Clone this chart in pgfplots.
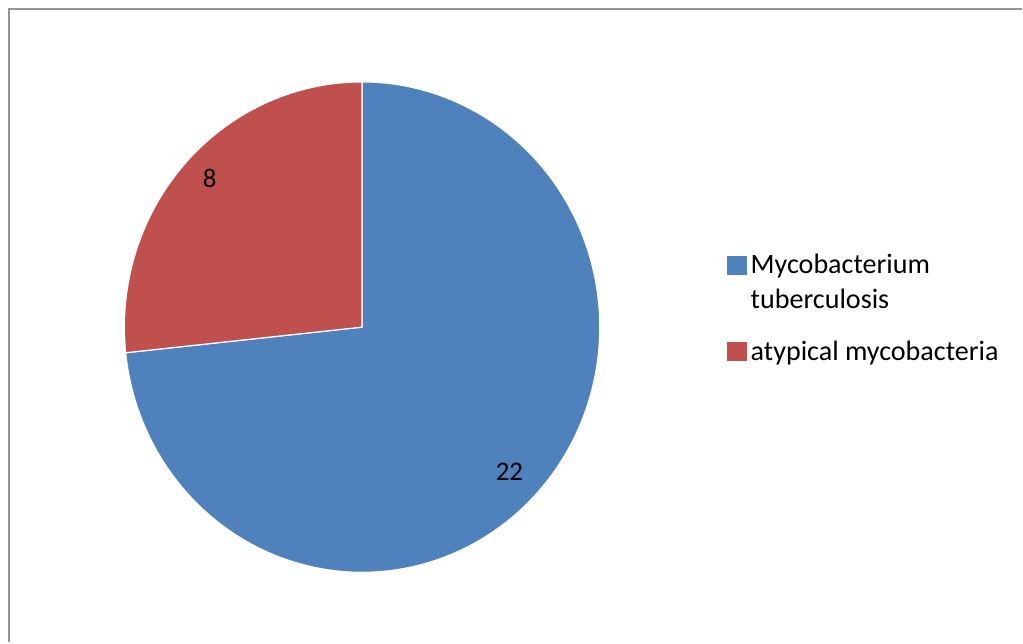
\documentclass[border=0pt]{standalone}
\usepackage{pgfplots}
\pgfplotsset{compat=1.18}
\usepackage{pgfplotstable}
\usepackage{fontspec}
\setmainfont{Carlito}
\definecolor{mtb}{HTML}{4F81BD}
\definecolor{atyp}{HTML}{C0504D}
\definecolor{framegray}{HTML}{959595}
\pgfplotstableread{
group value
MTB 22
NTM 8
}\piedata
\pgfplotstablegetelem{0}{value}\of\piedata \let\va\pgfplotsretval
\pgfplotstablegetelem{1}{value}\of\piedata \let\vb\pgfplotsretval
\pgfmathsetmacro\total{\va+\vb}
\pgfmathsetmacro\aone{90-360*\va/\total}
\pgfmathsetmacro\atwo{90+360*\vb/\total}
\begin{document}
\begin{tikzpicture}
\begin{axis}[
  scale only axis, width=511.5bp, height=321.5bp,
  xmin=0, xmax=1023, ymin=0, ymax=643, y dir=reverse,
  hide axis, clip=false,
  legend style={draw=none, fill=none, at={(axis cs:727,254)}, anchor=north west,
    font=\fontsize{14.1}{17.5}\selectfont, row sep=15bp, column sep=2bp,
    inner sep=0pt, nodes={inner sep=0pt, align=left}},
  legend cell align=left,
]
\path (axis cs:0,0) rectangle (axis cs:1023,643);
\addplot[fill=mtb, draw=white, line width=0.6bp, domain=\aone:90, samples=240, variable=\t,
  legend image code/.code={\fill[mtb] (0bp,3.95bp) rectangle (9.5bp,12.95bp);}]
  ({362.5+238*cos(\t)},{327.5-245.5*sin(\t)}) -- (axis cs:362.5,327.5) -- cycle;
\addlegendentry{Mycobacterium\\tuberculosis}
\addplot[fill=atyp, draw=white, line width=0.6bp, domain=90:\atwo, samples=120, variable=\t,
  legend image code/.code={\fill[atyp] (0bp,-4bp) rectangle (9.5bp,5bp);}]
  ({362.5+238*cos(\t)},{327.5-245.5*sin(\t)}) -- (axis cs:362.5,327.5) -- cycle;
\addlegendentry{atypical mycobacteria}
\node[font=\fontsize{13.5}{14}\selectfont, inner sep=0pt] at (axis cs:210,179) {8};
\node[font=\fontsize{13.5}{14}\selectfont, inner sep=0pt] at (axis cs:510,472) {22};
\draw[framegray, line width=1.2bp] (axis cs:9,643) -- (axis cs:9,9) -- (axis cs:1023,9);
\end{axis}
\end{tikzpicture}
\end{document}
